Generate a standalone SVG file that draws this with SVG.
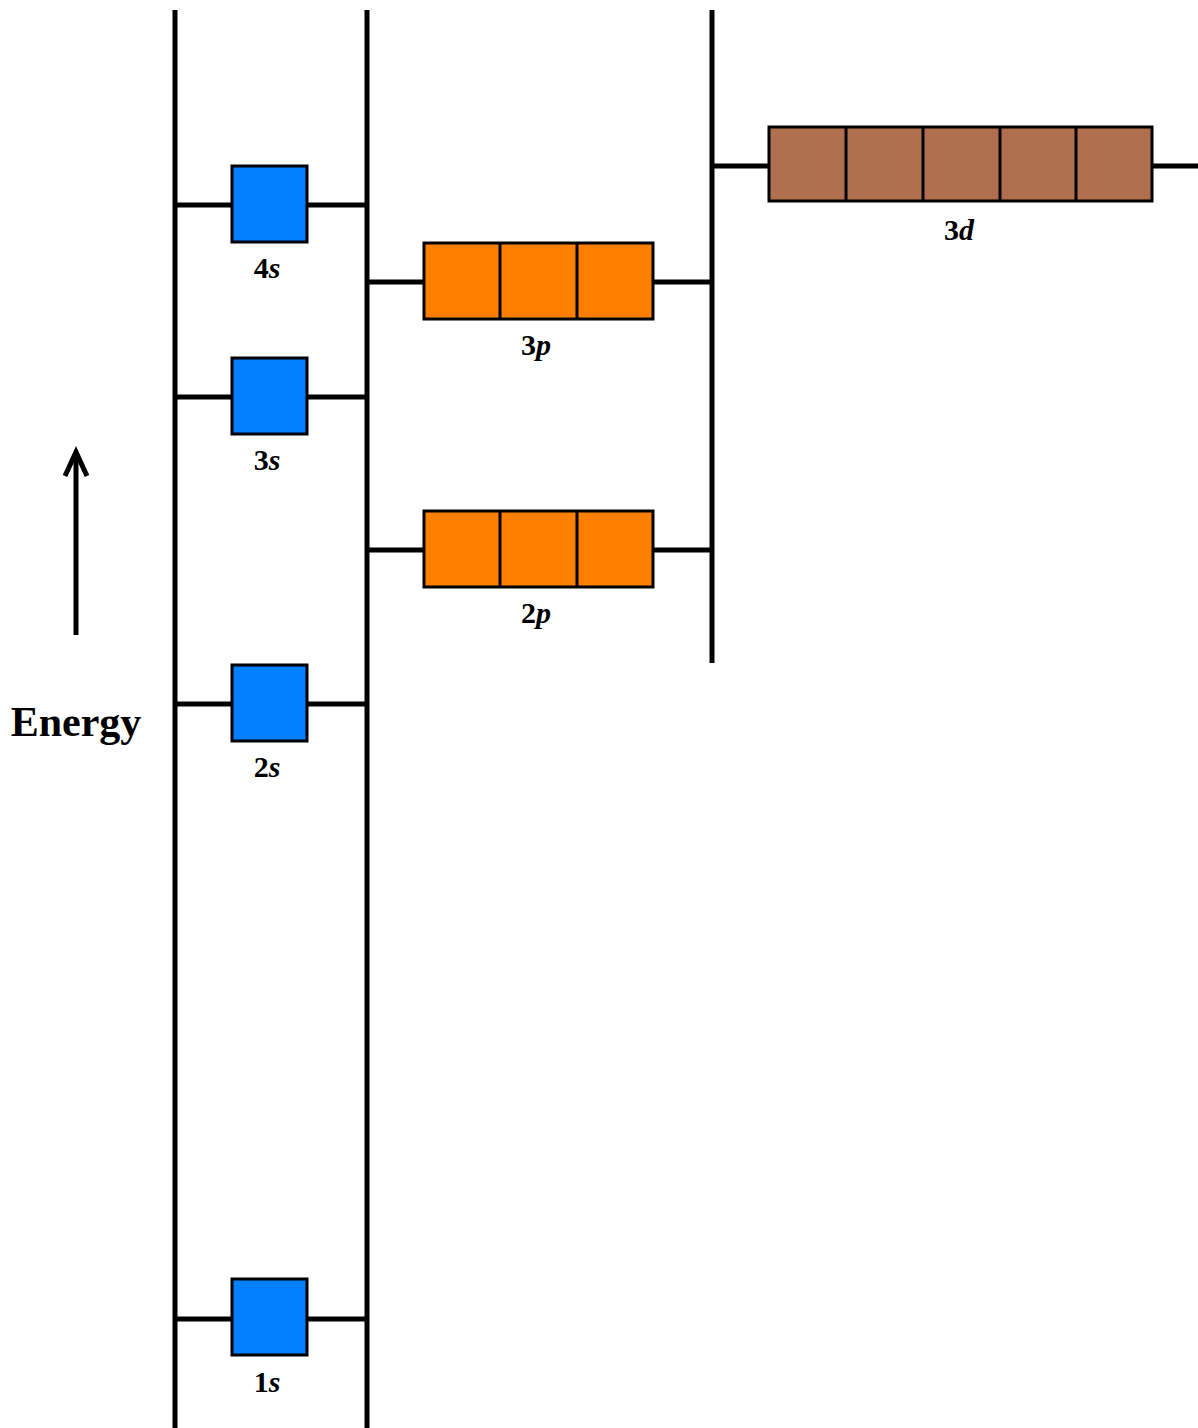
<svg xmlns="http://www.w3.org/2000/svg" width="1198" height="1428" viewBox="0 0 1198 1428">
<style>
.ln{stroke:#000;stroke-width:5;fill:none}
.s{fill:#0080FF;stroke:#000;stroke-width:3}
.p{fill:#FF8000;stroke:#000;stroke-width:3}
.d{fill:#B07050;stroke:#000;stroke-width:3}
.dv{stroke:#000;stroke-width:3}
.lb{font-family:"Liberation Serif",serif;font-weight:bold;font-size:30px;text-anchor:middle;fill:#000}
.lb tspan{font-style:italic}
</style>
<rect width="1198" height="1428" fill="#fff"/>
<g id="connectors">
<line class="ln" x1="175" y1="10" x2="175" y2="1428"/>
<line class="ln" x1="367" y1="10" x2="367" y2="1428"/>
<line class="ln" x1="712" y1="10" x2="712" y2="663"/>
<line class="ln" x1="175" y1="205" x2="367" y2="205"/>
<line class="ln" x1="175" y1="397" x2="367" y2="397"/>
<line class="ln" x1="175" y1="704" x2="367" y2="704"/>
<line class="ln" x1="175" y1="1319" x2="367" y2="1319"/>
<line class="ln" x1="367" y1="282" x2="712" y2="282"/>
<line class="ln" x1="367" y1="550" x2="712" y2="550"/>
<line class="ln" x1="712" y1="166" x2="1198" y2="166"/>
<line class="ln" x1="76" y1="635" x2="76" y2="452"/>
<polyline class="ln" points="65,476 76,452 87,476" stroke-width="6" stroke-linejoin="miter"/>
</g>
<g id="energy"><text x="76" y="736" font-family="Liberation Serif,serif" font-weight="bold" font-size="42" text-anchor="middle">Energy</text></g>
<g id="s4"><rect class="s" x="232" y="166" width="75" height="76"/><text class="lb" x="267" y="278">4<tspan>s</tspan></text></g>
<g id="s3"><rect class="s" x="232" y="358" width="75" height="76"/><text class="lb" x="267" y="470">3<tspan>s</tspan></text></g>
<g id="s2"><rect class="s" x="232" y="665" width="75" height="76"/><text class="lb" x="267" y="777">2<tspan>s</tspan></text></g>
<g id="s1"><rect class="s" x="232" y="1279" width="75" height="76"/><text class="lb" x="267" y="1392">1<tspan>s</tspan></text></g>
<g id="p3"><rect class="p" x="424" y="243" width="229" height="76"/><line class="dv" x1="500" y1="243" x2="500" y2="319"/><line class="dv" x1="577" y1="243" x2="577" y2="319"/><text class="lb" x="536" y="355">3<tspan>p</tspan></text></g>
<g id="p2"><rect class="p" x="424" y="511" width="229" height="76"/><line class="dv" x1="500" y1="511" x2="500" y2="587"/><line class="dv" x1="577" y1="511" x2="577" y2="587"/><text class="lb" x="536" y="623">2<tspan>p</tspan></text></g>
<g id="d3"><rect class="d" x="769" y="127" width="383" height="74"/><line class="dv" x1="846" y1="127" x2="846" y2="201"/><line class="dv" x1="923" y1="127" x2="923" y2="201"/><line class="dv" x1="1000" y1="127" x2="1000" y2="201"/><line class="dv" x1="1076" y1="127" x2="1076" y2="201"/><text class="lb" x="959" y="240">3<tspan>d</tspan></text></g>
</svg>
